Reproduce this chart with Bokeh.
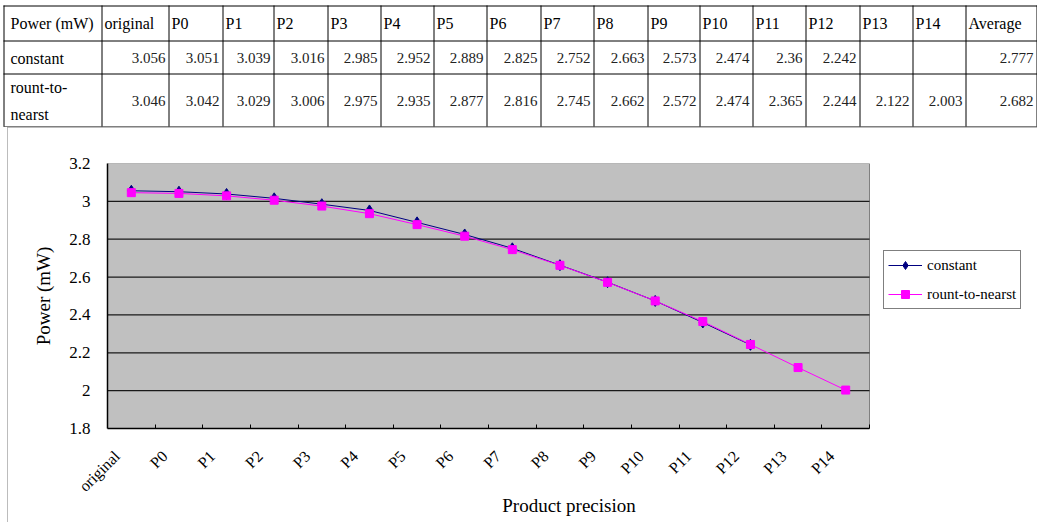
import numpy as np
from bokeh.plotting import figure
from bokeh.models import (Range1d, FixedTicker, Legend, LegendItem, ColumnDataSource)
from bokeh.layouts import column
from bokeh.embed import file_html
from bokeh.resources import INLINE
from bokeh.core.properties import value

# ---- data ----
categories = ["original", "P0", "P1", "P2", "P3", "P4", "P5", "P6", "P7",
              "P8", "P9", "P10", "P11", "P12", "P13", "P14"]
constant = [3.056, 3.051, 3.039, 3.016, 2.985, 2.952, 2.889, 2.825, 2.752,
            2.663, 2.573, 2.474, 2.36, 2.242, None, None]
rount_to_nearst = [3.046, 3.042, 3.029, 3.006, 2.975, 2.935, 2.877, 2.816, 2.745,
                   2.662, 2.572, 2.474, 2.365, 2.244, 2.122, 2.003]
averages = [2.777, 2.682]
series_names = ["constant", "rount-to-nearst"]
row_heads = [["constant"], ["rount-to-", "nearst"]]
corner_label = "Power (mW)"
average_label = "Average"
y_ticks = [1.8, 2.0, 2.2, 2.4, 2.6, 2.8, 3.0, 3.2]
grid_values = [2.0, 2.2, 2.4, 2.6, 2.8, 3.0]

SERIF = "Liberation Serif"
W = 1037

# ---- table above the chart (page pixel layout) ----
col_edges = [3, 101, 168, 222, 273, 327, 380, 433, 486, 540, 593, 647, 699,
             752, 805, 859, 912, 965, 1036]
row_edges = [5, 40, 73, 126]
TABLE_H = 127

t = figure(width=W, height=TABLE_H, x_range=Range1d(0, W), y_range=Range1d(TABLE_H, 0),
           output_backend="svg", toolbar_location=None, min_border=0, frame_align=False)
t.axis.visible = False
t.grid.visible = False
t.outline_line_color = None
t.background_fill_color = "white"
t.border_fill_color = "white"

# grid lines of the table
xs0, xs1, ys0, ys1 = [], [], [], []
for e in col_edges:
    xs0.append(e + 0.5); xs1.append(e + 0.5); ys0.append(row_edges[0]); ys1.append(row_edges[-1])
for e in row_edges:
    xs0.append(col_edges[0]); xs1.append(col_edges[-1] + 1); ys0.append(e + 0.5); ys1.append(e + 0.5)
t.segment(xs0, ys0, xs1, ys1, line_color="black", line_width=1)

hdr_y = (row_edges[0] + row_edges[1]) / 2
head_text = [corner_label] + categories + [average_label]
head_x = [col_edges[0] + 7] + [col_edges[i + 1] + 3 for i in range(len(categories) + 1)]
t.text(x=head_x, y=[hdr_y] * len(head_text), text=head_text,
       text_font=value(SERIF), text_font_size="16px",
       text_align="left", text_baseline="middle", text_color="black")

# row heads
rh_x, rh_y, rh_t = [], [], []
for r, lines in enumerate(row_heads):
    top, bot = row_edges[r + 1], row_edges[r + 2]
    n = len(lines)
    for k, s in enumerate(lines):
        rh_x.append(col_edges[0] + 7)
        rh_y.append(top + (bot - top) * (2 * k + 1) / (2 * n) + 1)
        rh_t.append(s)
t.text(x=rh_x, y=rh_y, text=rh_t, text_font=value(SERIF), text_font_size="16px",
       text_align="left", text_baseline="middle", text_color="black")

# numeric cells
num_x, num_y, num_t = [], [], []
for r, series in enumerate([constant, rount_to_nearst]):
    yc = (row_edges[r + 1] + row_edges[r + 2]) / 2 + 1
    vals = list(series) + [averages[r]]
    for c, v in enumerate(vals):
        if v is None:
            continue
        num_x.append(col_edges[c + 2] - 3)
        num_y.append(yc)
        num_t.append(f"{v:g}")
t.text(x=num_x, y=num_y, text=num_t, text_font=value(SERIF), text_font_size="15px",
       text_align="right", text_baseline="middle", text_color="#222222")

# ---- line chart ----
n_cat = len(categories)
xc = np.arange(n_cat) + 0.5
const_y = np.array([np.nan if v is None else v for v in constant], dtype=float)
round_y = np.array(rount_to_nearst, dtype=float)

CH_LEFT = 7
FRAME_L, PLOT_R, FRAME_R = 107, 869, 1030
# extend the x range past the last category so the legend fits inside the frame
x_end = n_cat * (FRAME_R - FRAME_L) / (PLOT_R - FRAME_L)

p = figure(width=W - CH_LEFT, height=522 - TABLE_H,
           x_range=Range1d(0, x_end), y_range=Range1d(y_ticks[0], y_ticks[-1]),
           output_backend="svg", toolbar_location=None, frame_align=False,
           min_border_left=FRAME_L - CH_LEFT, min_border_right=W - FRAME_R,
           min_border_top=163 - TABLE_H, min_border_bottom=522 - 428,
           margin=(0, 0, 0, CH_LEFT),
           styles={"outline": "1px solid #a6a6a6", "outline-offset": "-1px"})
p.background_fill_color = "white"
p.border_fill_color = "white"
p.outline_line_color = None
p.grid.visible = False

# grey plot area and its horizontal gridlines
p.quad(left=0, right=n_cat, bottom=y_ticks[0], top=y_ticks[-1],
       fill_color="#C0C0C0", line_color="#808080", line_width=1)
p.segment(x0=[0] * len(grid_values), y0=grid_values, x1=[n_cat] * len(grid_values),
          y1=grid_values, line_color="#1a1a1a", line_width=1.2)

# slanted category labels sit a little left of each category centre
LABEL_SHIFT = 0.3
label_pos = [float(x - LABEL_SHIFT) for x in xc]

xa = p.xaxis[0]
xa.bounds = (0, n_cat)
xa.ticker = FixedTicker(ticks=label_pos, minor_ticks=list(range(1, n_cat + 1)))
xa.major_label_overrides = {x: c for x, c in zip(label_pos, categories)}
xa.major_tick_line_color = None
xa.minor_tick_in = 4
xa.minor_tick_out = 0
xa.minor_tick_line_color = "black"
xa.axis_line_color = "black"
xa.axis_line_width = 1.5
xa.major_label_orientation = np.pi / 4
xa.major_label_standoff = 19
xa.major_label_text_font = SERIF
xa.major_label_text_font_size = "16px"
xa.major_label_text_color = "black"
xa.axis_label = "Product precision"
xa.axis_label_text_font = SERIF
xa.axis_label_text_font_size = "19px"
xa.axis_label_text_font_style = "normal"
xa.axis_label_text_color = "black"
xa.axis_label_standoff = -9

ya = p.yaxis[0]
ya.ticker = FixedTicker(ticks=y_ticks)
ya.major_label_overrides = {float(v): f"{v:g}" for v in y_ticks}
ya.major_tick_in = 0
ya.major_tick_out = 0
ya.minor_tick_line_color = None
ya.axis_line_color = "black"
ya.axis_line_width = 1.5
ya.major_label_standoff = 17
ya.major_label_text_font = SERIF
ya.major_label_text_font_size = "17px"
ya.major_label_text_color = "black"
ya.axis_label = "Power (mW)"
ya.axis_label_text_font = SERIF
ya.axis_label_text_font_size = "19px"
ya.axis_label_text_font_style = "normal"
ya.axis_label_text_color = "black"
ya.axis_label_standoff = 12

src = ColumnDataSource(dict(x=xc, c=const_y, r=round_y))
l1 = p.line("x", "c", source=src, line_color="#000080", line_width=1)
m1 = p.scatter("x", "c", source=src, marker="diamond", size=11,
               fill_color="#000080", line_color="#000080")
l2 = p.line("x", "r", source=src, line_color="#FF00FF", line_width=1)
m2 = p.scatter("x", "r", source=src, marker="square", size=8,
               fill_color="#FF00FF", line_color="#FF00FF")

legend = Legend(items=[LegendItem(label=series_names[0], renderers=[l1, m1]),
                       LegendItem(label=series_names[1], renderers=[l2, m2])],
                location=(883 - FRAME_L, 428 - 309))
legend.border_line_color = "black"
legend.border_line_width = 1
legend.background_fill_color = "white"
legend.background_fill_alpha = 1
legend.label_text_font = SERIF
legend.label_text_font_size = "15px"
legend.label_text_color = "black"
legend.glyph_width = 34
legend.glyph_height = 20
legend.label_height = 20
legend.label_standoff = 5
legend.padding = 4
legend.spacing = 9
legend.margin = 0
p.add_layout(legend)

layout = column(t, p, spacing=0)
open("out.html", "w").write(file_html(layout, INLINE))
